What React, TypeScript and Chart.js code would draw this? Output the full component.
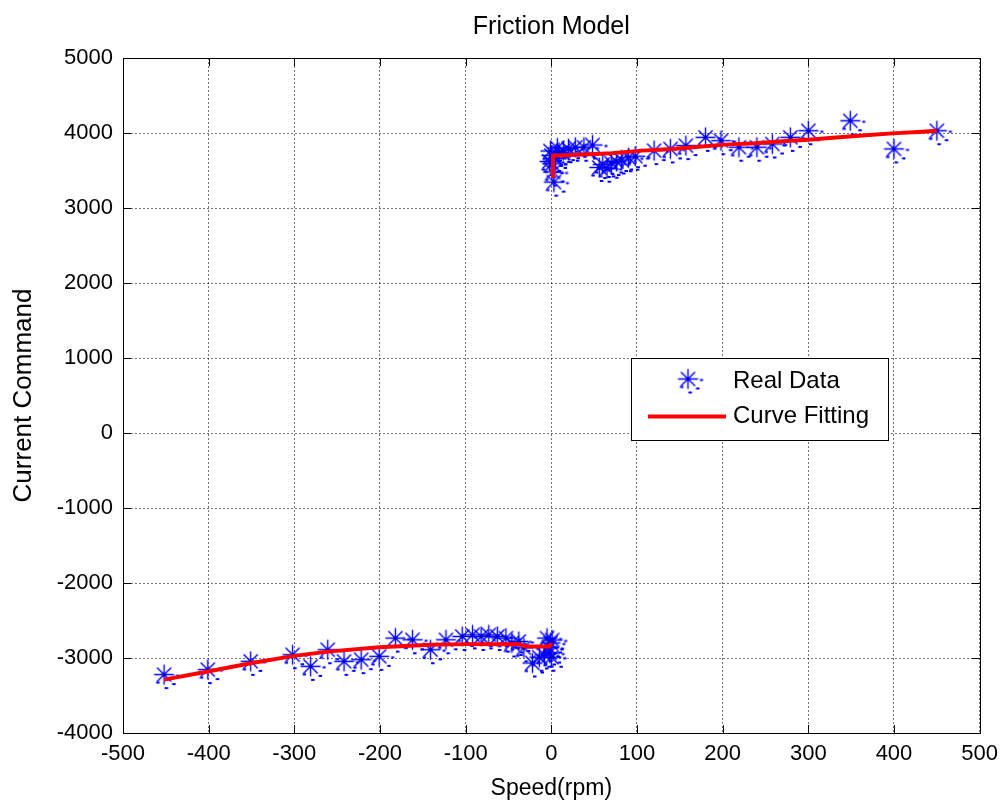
import React, { useEffect, useRef } from 'react';
import { Chart, registerables } from 'chart.js';

Chart.register(...registerables);

const FONT = '"Liberation Sans", Arial, Helvetica, sans-serif';

const titleText = 'Friction Model';
const xTitle = 'Speed(rpm)';
const yTitle = 'Current Command';
const legendLabels = ['Real Data', 'Curve Fitting'];

const xTickValues = [-500, -400, -300, -200, -100, 0, 100, 200, 300, 400, 500];
const yTickValues = [-4000, -3000, -2000, -1000, 0, 1000, 2000, 3000, 4000, 5000];

// Real data, negative speed branch
const realNegSpeed = [-452, -401, -351, -302, -281, -261, -242, -222, -201, -182, -162, -141, -123, -104, -92, -82, -73, -63, -53, -46, -38, -32, -22, -14, -8, -5, -3, -2, -1, 0, 1];
const realNegCurrent = [-3221, -3155, -3045, -2956, -3111, -2890, -3045, -3022, -2978, -2735, -2757, -2890, -2757, -2713, -2691, -2713, -2691, -2713, -2735, -2800, -2780, -2865, -3066, -2990, -2960, -2735, -2860, -2934, -2800, -2990, -2760];

// Real data, positive speed branch
const realPosSpeed = [-2, -1, 0, 1, 2, 3, 5, 7, 9, 14, 20, 28, 38, 48, 56, 60, 65, 70, 76, 82, 90, 98, 120, 139, 157, 180, 198, 219, 240, 258, 279, 300, 349, 400, 450];
const realPosCurrent = [3620, 3760, 3700, 3590, 3480, 3345, 3660, 3800, 3740, 3765, 3790, 3810, 3810, 3840, 3540, 3580, 3530, 3600, 3620, 3640, 3670, 3690, 3765, 3788, 3832, 3942, 3898, 3810, 3810, 3854, 3942, 4030, 4163, 3788, 4030];

// Curve fitting, negative branch
const fitNegSpeed = [-452, -401, -351, -302, -261, -201, -141, -100, -53, -38, -30, -10, -2, 0];
const fitNegCurrent = [-3288, -3180, -3070, -2975, -2915, -2858, -2822, -2815, -2815, -2815, -2846, -2848, -2848, -2800];

// Curve fitting, positive branch
const fitPosSpeed = [2, 2, 10, 71, 106, 141, 172, 203, 238, 270, 300, 336, 371, 398, 433, 450];
const fitPosCurrent = [3400, 3700, 3700, 3730, 3765, 3788, 3818, 3845, 3862, 3889, 3911, 3942, 3973, 3995, 4017, 4030];

const BLUE = '#0000ff';
const RED = '#ff0000';
const GRID = 'rgba(0,0,0,0.55)';

function zip(xs: number[], ys: number[]) {
  return xs.map((x, i) => ({ x, y: ys[i] }));
}

function makeStar(): HTMLCanvasElement {
  const c = document.createElement('canvas');
  c.width = 35;
  c.height = 35;
  const g = c.getContext('2d')!;
  const cx = 17.5;
  const cy = 17.5;
  const r = 10;
  const d = r * Math.SQRT1_2;
  g.strokeStyle = BLUE;
  g.lineWidth = 1.4;
  g.beginPath();
  g.moveTo(cx - r, cy);
  g.lineTo(cx + r, cy);
  g.moveTo(cx, cy - r);
  g.lineTo(cx, cy + r);
  g.moveTo(cx - d, cy - d);
  g.lineTo(cx + d, cy + d);
  g.moveTo(cx - d, cy + d);
  g.lineTo(cx + d, cy - d);
  g.stroke();
  g.fillStyle = '#0000cc';
  g.fillRect(cx - 1.5, cy - 1.5, 3, 3);
  g.fillStyle = BLUE;
  g.fillRect(cx + 12, cy, 3, 2);
  g.fillRect(cx - 8, cy + 7, 3.5, 2);
  g.fillRect(cx + 0.5, cy + 12.5, 3.5, 2);
  g.fillRect(cx + 8, cy + 8.5, 3.5, 2);
  return c;
}

export default function App() {
  const ref = useRef<HTMLCanvasElement | null>(null);

  useEffect(() => {
    if (!ref.current) return;
    const star = makeStar();

    const framePlugin = {
      id: 'matlabFrame',
      beforeDatasetsDraw(chart: any) {
        const { ctx, chartArea: a, scales } = chart;
        ctx.save();
        ctx.strokeStyle = '#000';
        ctx.lineWidth = 1;
        ctx.setLineDash([]);
        ctx.beginPath();
        const tl = 8;
        for (const v of xTickValues) {
          const px = Math.round(scales.x.getPixelForValue(v)) + 0.5;
          ctx.moveTo(px, a.bottom);
          ctx.lineTo(px, a.bottom - tl);
          ctx.moveTo(px, a.top);
          ctx.lineTo(px, a.top + tl);
        }
        for (const v of yTickValues) {
          const py = Math.round(scales.y.getPixelForValue(v)) + 0.5;
          ctx.moveTo(a.left, py);
          ctx.lineTo(a.left + tl, py);
          ctx.moveTo(a.right, py);
          ctx.lineTo(a.right - tl, py);
        }
        ctx.stroke();
        ctx.strokeRect(Math.round(a.left) + 0.5, Math.round(a.top) + 0.5, Math.round(a.right - a.left), Math.round(a.bottom - a.top));
        ctx.restore();
      },
      afterDraw(chart: any) {
        const { ctx, chartArea: a } = chart;
        ctx.save();
        // title
        ctx.fillStyle = '#000';
        ctx.font = `25px ${FONT}`;
        ctx.textAlign = 'center';
        ctx.textBaseline = 'middle';
        ctx.fillText(titleText, (a.left + a.right) / 2, 27);
        // legend box
        ctx.fillStyle = '#fff';
        ctx.fillRect(632, 358, 257, 82);
        ctx.strokeStyle = '#000';
        ctx.lineWidth = 1;
        ctx.setLineDash([]);
        ctx.strokeRect(631.5, 358.5, 257, 82);
        // marker
        ctx.drawImage(star, 688 - 17.5, 379 - 17.5);
        // line sample
        ctx.strokeStyle = RED;
        ctx.lineWidth = 4;
        ctx.beginPath();
        ctx.moveTo(648, 416.5);
        ctx.lineTo(726, 416.5);
        ctx.stroke();
        ctx.fillStyle = '#000';
        ctx.font = `24px ${FONT}`;
        ctx.textAlign = 'left';
        ctx.textBaseline = 'middle';
        ctx.fillText(legendLabels[0], 733, 381);
        ctx.fillText(legendLabels[1], 733, 416);
        ctx.restore();
      },
    };

    const realData = [...zip(realNegSpeed, realNegCurrent), ...zip(realPosSpeed, realPosCurrent)];
    const fitData: any[] = [...zip(fitNegSpeed, fitNegCurrent), { x: 1, y: null }, ...zip(fitPosSpeed, fitPosCurrent)];

    const chart = new Chart(ref.current, {
      type: 'scatter',
      data: {
        datasets: [
          {
            label: legendLabels[0],
            data: realData,
            showLine: false,
            pointStyle: star as any,
            pointRadius: 10,
            borderColor: BLUE,
            backgroundColor: BLUE,
            order: 2,
          },
          {
            label: legendLabels[1],
            data: fitData,
            showLine: true,
            spanGaps: false,
            borderColor: RED,
            backgroundColor: RED,
            borderWidth: 4,
            pointRadius: 0,
            tension: 0,
            order: 1,
          } as any,
        ],
      },
      options: {
        responsive: false,
        animation: false,
        devicePixelRatio: 1,
        events: [],
        layout: { padding: { top: 58, right: 24, left: 0, bottom: 0 } },
        plugins: {
          legend: { display: false },
          tooltip: { enabled: false },
          title: { display: false },
        },
        scales: {
          x: {
            type: 'linear',
            min: -500,
            max: 500,
            afterBuildTicks: (s: any) => {
              s.ticks = xTickValues.map((v) => ({ value: v }));
            },
            afterFit: (s: any) => {
              s.height = 69;
            },
            ticks: {
              color: '#000',
              font: { family: FONT, size: 22 },
              padding: 8,
              maxRotation: 0,
              autoSkip: false,
              callback: (v: any) => String(v),
            },
            grid: { color: GRID, lineWidth: 1, drawTicks: false },
            border: { display: false, dash: [2, 2] },
            title: {
              display: true,
              text: xTitle,
              color: '#000',
              font: { family: FONT, size: 23 },
              padding: { top: 0, bottom: 0 },
            },
          },
          y: {
            type: 'linear',
            min: -4000,
            max: 5000,
            afterBuildTicks: (s: any) => {
              s.ticks = yTickValues.map((v) => ({ value: v }));
            },
            afterFit: (s: any) => {
              s.width = 123;
            },
            ticks: {
              color: '#000',
              font: { family: FONT, size: 22 },
              padding: 10,
              autoSkip: false,
              callback: (v: any) => String(v),
            },
            grid: { color: GRID, lineWidth: 1, drawTicks: false },
            border: { display: false, dash: [2, 2] },
            title: {
              display: true,
              text: yTitle,
              color: '#000',
              font: { family: FONT, size: 26 },
              padding: { top: 8, bottom: 0 },
            },
          },
        },
      },
      plugins: [framePlugin],
    });

    return () => chart.destroy();
  }, []);

  return (
    <div style={{ position: 'absolute', left: 0, top: 0, width: 1006, height: 802, background: '#fff' }}>
      <canvas ref={ref} width={1006} height={802} style={{ display: 'block' }} />
    </div>
  );
}
